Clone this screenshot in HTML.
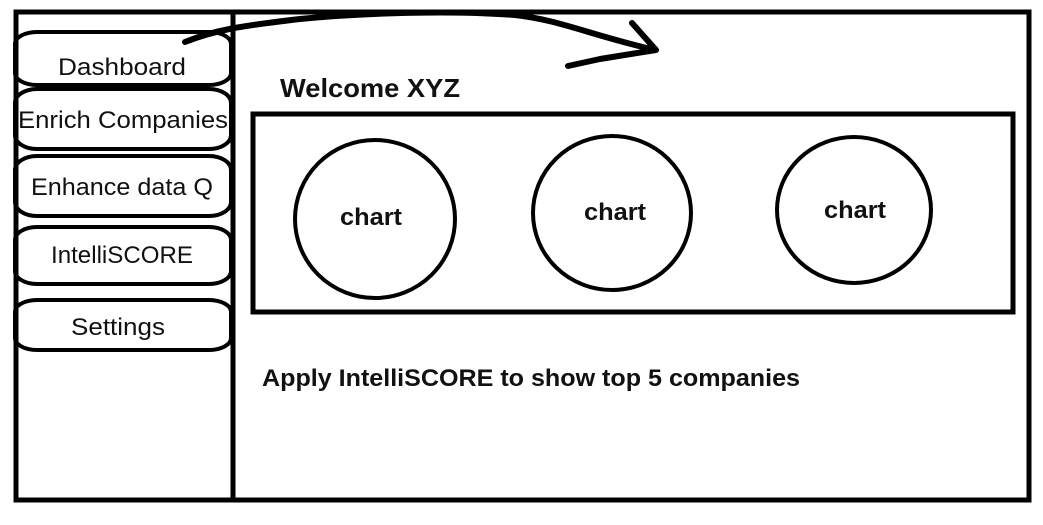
<!DOCTYPE html>
<html><head><meta charset="utf-8"><style>
html,body{margin:0;padding:0;background:#fff;}
svg{display:block;}
text{font-family:"Liberation Sans",Calibri,sans-serif;fill:#111;}
</style></head><body>
<svg width="1043" height="525" viewBox="0 0 1043 525" xmlns="http://www.w3.org/2000/svg">
<rect x="16" y="12" width="1013" height="488" fill="none" stroke="#000" stroke-width="5"/>
<line x1="233" y1="12" x2="233" y2="500" stroke="#000" stroke-width="5"/>
<g fill="none" stroke="#000" stroke-width="4">
<rect x="15" y="32" width="216" height="53" rx="22" ry="12"/>
<rect x="15" y="89" width="216" height="60" rx="22" ry="14"/>
<rect x="15" y="156" width="216" height="60" rx="22" ry="14"/>
<rect x="15" y="227" width="216" height="57" rx="22" ry="13"/>
<rect x="15" y="300" width="216" height="50" rx="22" ry="12"/>
<rect x="253" y="114" width="760" height="198" stroke-width="5"/>
<ellipse cx="375" cy="219" rx="80" ry="79"/>
<ellipse cx="612" cy="213" rx="79" ry="77"/>
<ellipse cx="854" cy="210" rx="77" ry="73"/>
</g>
<g fill="none" stroke="#000" stroke-width="6" stroke-linecap="round" stroke-linejoin="round">
<path d="M185,42 C215,30 240,26 300,19 C360,13 450,10 515,15 C560,20 590,35 655,50"/>
<path d="M632,23 L656,50 L600,59 L568,66"/>
</g>
<g font-size="24" text-anchor="middle">
<text x="122" y="75" textLength="128" lengthAdjust="spacingAndGlyphs">Dashboard</text>
<text x="123" y="128" textLength="210" lengthAdjust="spacingAndGlyphs">Enrich Companies</text>
<text x="122" y="195" textLength="182" lengthAdjust="spacingAndGlyphs">Enhance data Q</text>
<text x="122" y="263" textLength="142" lengthAdjust="spacingAndGlyphs">IntelliSCORE</text>
<text x="118" y="335" textLength="94" lengthAdjust="spacingAndGlyphs">Settings</text>
</g>
<g font-weight="bold" font-size="24" text-anchor="middle">
<text x="371" y="225" textLength="62" lengthAdjust="spacingAndGlyphs">chart</text>
<text x="615" y="220" textLength="62" lengthAdjust="spacingAndGlyphs">chart</text>
<text x="855" y="218" textLength="62" lengthAdjust="spacingAndGlyphs">chart</text>
</g>
<text x="280" y="97" font-weight="bold" font-size="26" textLength="180" lengthAdjust="spacingAndGlyphs">Welcome XYZ</text>
<text x="262" y="386" font-weight="bold" font-size="24" textLength="538" lengthAdjust="spacingAndGlyphs">Apply IntelliSCORE to show top 5 companies</text>
</svg>
</body></html>
